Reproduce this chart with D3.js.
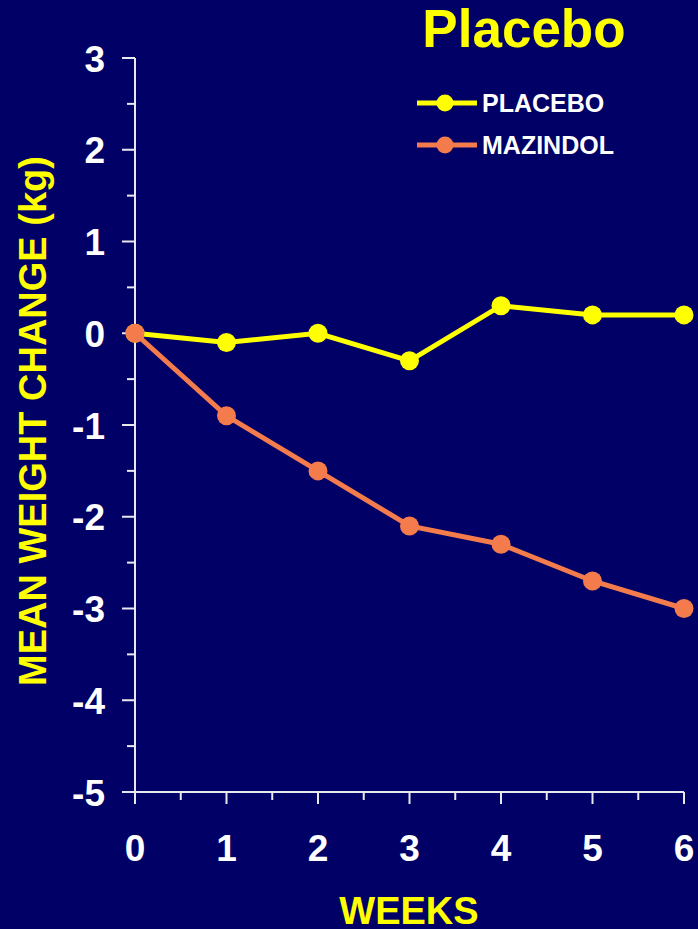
<!DOCTYPE html>
<html>
<head>
<meta charset="utf-8">
<script src="https://cdn.jsdelivr.net/npm/d3@7"></script>
<style>
  html, body { margin: 0; padding: 0; background: #000066; }
  svg { display: block; font-family: "Liberation Sans", Arial, sans-serif; font-weight: bold; }
</style>
</head>
<body>
<svg width="698" height="929"></svg>
<script>
const weeks = [0, 1, 2, 3, 4, 5, 6];
const placebo = [0, -0.1, 0, -0.3, 0.3, 0.2, 0.2];
const mazindol = [0, -0.9, -1.5, -2.1, -2.3, -2.7, -3.0];
const yTicks = [3, 2, 1, 0, -1, -2, -3, -4, -5];

const seriesNames = ['PLACEBO', 'MAZINDOL'];
const seriesColors = ['#ffff00', '#f47b4c'];

const svg = d3.select('svg');
const axisColor = '#e8e8f0';

const x = d3.scaleLinear().domain([0, 6]).range([135, 684]);
const y = d3.scaleLinear().domain([-5, 3]).range([792, 58]);

// y axis: major ticks on integers, minor at halves
const yAxis = svg.append('g').attr('transform', 'translate(135,0)');
yAxis.append('line')
    .attr('y1', y(3)).attr('y2', y(-5))
    .attr('stroke', axisColor).attr('stroke-width', 2);
yAxis.selectAll('.major').data(yTicks).enter().append('line')
    .attr('x1', -13).attr('x2', 0)
    .attr('y1', d => y(d)).attr('y2', d => y(d))
    .attr('stroke', axisColor).attr('stroke-width', 2);
yAxis.selectAll('.minor').data(yTicks.slice(1).map(d => d + 0.5)).enter().append('line')
    .attr('x1', -8).attr('x2', 0)
    .attr('y1', d => y(d)).attr('y2', d => y(d))
    .attr('stroke', axisColor).attr('stroke-width', 2);
yAxis.selectAll('.lbl').data(yTicks).enter().append('text')
    .attr('x', -30).attr('y', d => y(d)).attr('dy', '0.37em')
    .attr('text-anchor', 'end').attr('fill', '#ffffff')
    .attr('font-size', 37).text(d => d);

// x axis
const xAxis = svg.append('g').attr('transform', 'translate(0,792)');
xAxis.append('line')
    .attr('x1', x(0)).attr('x2', x(6))
    .attr('stroke', axisColor).attr('stroke-width', 2);
xAxis.selectAll('.major').data(weeks).enter().append('line')
    .attr('x1', d => x(d)).attr('x2', d => x(d))
    .attr('y1', 0).attr('y2', 12)
    .attr('stroke', axisColor).attr('stroke-width', 2);
xAxis.selectAll('.minor').data(weeks.slice(1).map(d => d - 0.5)).enter().append('line')
    .attr('x1', d => x(d)).attr('x2', d => x(d))
    .attr('y1', 0).attr('y2', 8)
    .attr('stroke', axisColor).attr('stroke-width', 2);
xAxis.selectAll('.lbl').data(weeks).enter().append('text')
    .attr('x', d => x(d)).attr('y', 69)
    .attr('text-anchor', 'middle').attr('fill', '#ffffff')
    .attr('font-size', 37).text(d => d);

// series
const line = d3.line().x((d, i) => x(weeks[i])).y(d => y(d));
[placebo, mazindol].forEach((vals, k) => {
    const g = svg.append('g');
    g.append('path').datum(vals)
        .attr('d', line).attr('fill', 'none')
        .attr('stroke', seriesColors[k]).attr('stroke-width', 5);
    g.selectAll('circle').data(vals).enter().append('circle')
        .attr('cx', (d, i) => x(weeks[i])).attr('cy', d => y(d))
        .attr('r', 9.5).attr('fill', seriesColors[k]);
});

// legend
const legend = svg.append('g');
seriesNames.forEach((name, k) => {
    const ly = 103 + k * 42;
    legend.append('line')
        .attr('x1', 417).attr('x2', 477).attr('y1', ly).attr('y2', ly)
        .attr('stroke', seriesColors[k]).attr('stroke-width', 5);
    legend.append('circle')
        .attr('cx', 445).attr('cy', ly).attr('r', 8.5).attr('fill', seriesColors[k]);
    legend.append('text')
        .attr('x', 482).attr('y', ly).attr('dy', '0.36em')
        .attr('fill', '#ffffff').attr('font-size', 25).text(name);
});

// titles
svg.append('text')
    .attr('x', 524).attr('y', 47).attr('text-anchor', 'middle')
    .attr('fill', '#ffff00').attr('font-size', 53).text('Placebo');

svg.append('text')
    .attr('x', 409).attr('y', 924).attr('text-anchor', 'middle')
    .attr('fill', '#ffff00').attr('font-size', 38).text('WEEKS');

svg.append('text')
    .attr('transform', 'translate(46,421) rotate(-90)')
    .attr('text-anchor', 'middle')
    .attr('fill', '#ffff00').attr('font-size', 38).text('MEAN WEIGHT CHANGE (kg)');
</script>
</body>
</html>
